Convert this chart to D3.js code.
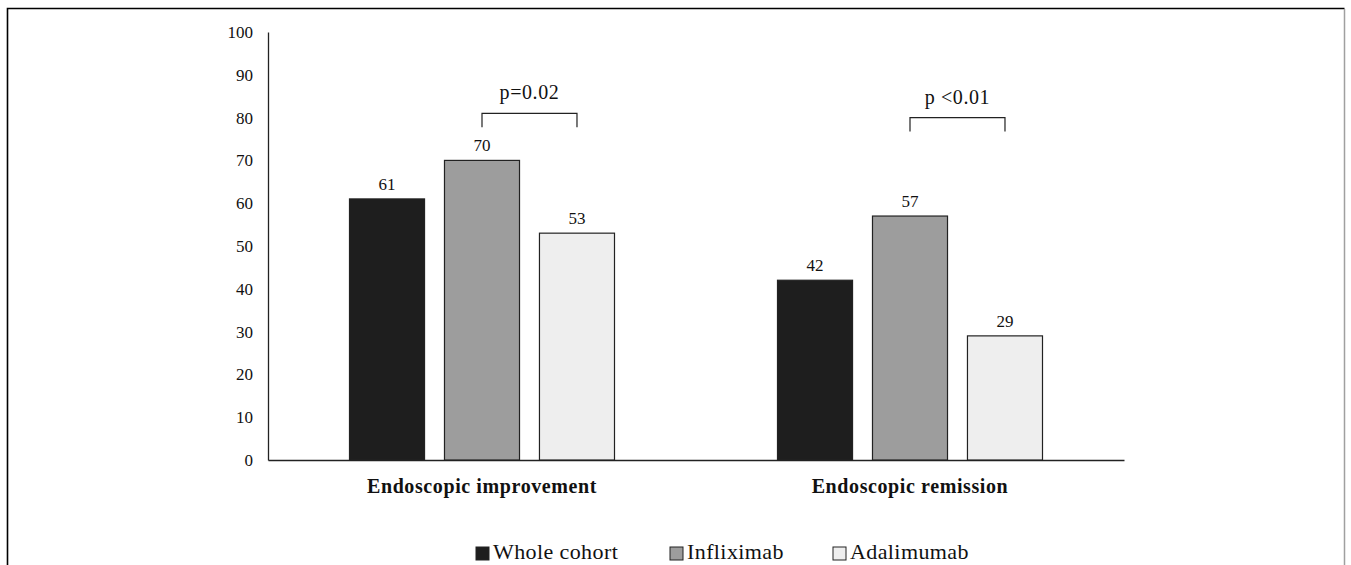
<!DOCTYPE html>
<html>
<head>
<meta charset="utf-8">
<script src="https://cdn.jsdelivr.net/npm/d3@7"></script>
<style>
  body { margin: 0; background: #fff; }
  svg text { font-family: "Times New Roman", "Liberation Serif", "DejaVu Serif", serif; fill: #111; }
</style>
</head>
<body>
<div id="chartContainer"></div>
<script>
const categories = ['Endoscopic improvement', 'Endoscopic remission'];
const seriesNames = ['Whole cohort', 'Infliximab', 'Adalimumab'];
const wholeCohort = [61, 42];
const infliximab = [70, 57];
const adalimumab = [53, 29];
const yTicks = [0, 10, 20, 30, 40, 50, 60, 70, 80, 90, 100];
const pLabels = ['p=0.02', 'p <0.01'];
const bracketLevels = [81, 80];

const colors = ['#1e1e1e', '#9d9d9d', '#eeeeee'];
const seriesValues = [wholeCohort, infliximab, adalimumab];
const serif = '"Times New Roman", "Liberation Serif", "DejaVu Serif", serif';

const width = 1351, height = 565;
const svg = d3.select('#chartContainer')
    .append('svg')
    .attr('width', width)
    .attr('height', height)
    .attr('font-family', serif);

// frame
svg.append('path')
    .attr('d', 'M7.5,566 V8.5 H1344.5')
    .attr('fill', 'none')
    .attr('stroke', '#000')
    .attr('stroke-width', 1.6);
svg.append('line')
    .attr('x1', 1344.5).attr('x2', 1344.5).attr('y1', 9).attr('y2', 566)
    .attr('stroke', '#a0a0a0').attr('stroke-width', 1.5);

const x0 = d3.scaleBand()
    .domain(categories)
    .range([268, 1124])
    .padding(0);

const x1 = d3.scaleBand()
    .domain(seriesNames)
    .range([0, 265])
    .paddingInner(0.21)
    .paddingOuter(0);

const y = d3.scaleLinear()
    .domain([0, 100])
    .range([460, 32]);

const inset = (x0.bandwidth() - 265) / 2;

// y axis
const yAxis = svg.append('g')
    .attr('transform', 'translate(268,0)')
    .call(d3.axisLeft(y).tickValues(yTicks).tickSize(0).tickPadding(15));
yAxis.attr('font-family', null);
yAxis.select('.domain').attr('stroke', '#222').attr('stroke-width', 1.3);
yAxis.selectAll('text')
    .style('font-family', serif)
    .style('font-size', '17px')
    .attr('fill', '#111');

// x axis
const xAxis = svg.append('g')
    .attr('transform', 'translate(0,460)')
    .call(d3.axisBottom(x0).tickSize(0).tickPadding(0));
xAxis.attr('font-family', null);
xAxis.select('.domain').attr('stroke', '#222').attr('stroke-width', 1.3);
xAxis.selectAll('text')
    .attr('dy', null)
    .attr('y', 33)
    .style('font-family', serif)
    .style('font-size', '20px')
    .style('font-weight', 'bold')
    .style('letter-spacing', '0.6px')
    .attr('fill', '#111');

// bars
const groups = svg.selectAll('g.group')
    .data(categories)
    .enter()
    .append('g')
    .attr('class', 'group')
    .attr('transform', d => `translate(${x0(d) + inset},0)`);

groups.selectAll('rect')
    .data((d, i) => seriesNames.map((s, j) => ({ s: s, v: seriesValues[j][i], j: j })))
    .enter()
    .append('rect')
    .attr('x', d => x1(d.s))
    .attr('y', d => y(d.v))
    .attr('width', x1.bandwidth())
    .attr('height', d => y(0) - y(d.v))
    .attr('fill', d => colors[d.j])
    .attr('stroke', '#222')
    .attr('stroke-width', 1.2);

groups.selectAll('text.val')
    .data((d, i) => seriesNames.map((s, j) => ({ s: s, v: seriesValues[j][i] })))
    .enter()
    .append('text')
    .attr('class', 'val')
    .attr('x', d => x1(d.s) + x1.bandwidth() / 2)
    .attr('y', d => y(d.v) - 9)
    .attr('text-anchor', 'middle')
    .style('font-size', '17px')
    .text(d => d.v);

// significance brackets between infliximab and adalimumab
groups.each(function(d, i) {
    const g = d3.select(this);
    const xa = x1('Infliximab') + x1.bandwidth() / 2;
    const xb = x1('Adalimumab') + x1.bandwidth() / 2;
    const yTop = y(bracketLevels[i]);
    g.append('path')
        .attr('d', `M${xa},${yTop + 14} V${yTop} H${xb} V${yTop + 14}`)
        .attr('fill', 'none')
        .attr('stroke', '#222')
        .attr('stroke-width', 1.2);
    g.append('text')
        .attr('x', (xa + xb) / 2)
        .attr('y', yTop - 14)
        .attr('text-anchor', 'middle')
        .style('font-size', '20px')
        .style('letter-spacing', '0.6px')
        .text(pLabels[i]);
});

// legend
const legendX = [476, 670, 833];
const legend = svg.selectAll('g.legend')
    .data(seriesNames)
    .enter()
    .append('g')
    .attr('class', 'legend')
    .attr('transform', (d, i) => `translate(${legendX[i]},559)`);
legend.append('rect')
    .attr('x', 0).attr('y', -12)
    .attr('width', 13).attr('height', 13)
    .attr('fill', (d, i) => colors[i])
    .attr('stroke', '#222')
    .attr('stroke-width', 1);
legend.append('text')
    .attr('x', 17)
    .attr('y', 0)
    .style('font-size', '22px')
    .style('letter-spacing', '0.4px')
    .text(d => d);
</script>
</body>
</html>
